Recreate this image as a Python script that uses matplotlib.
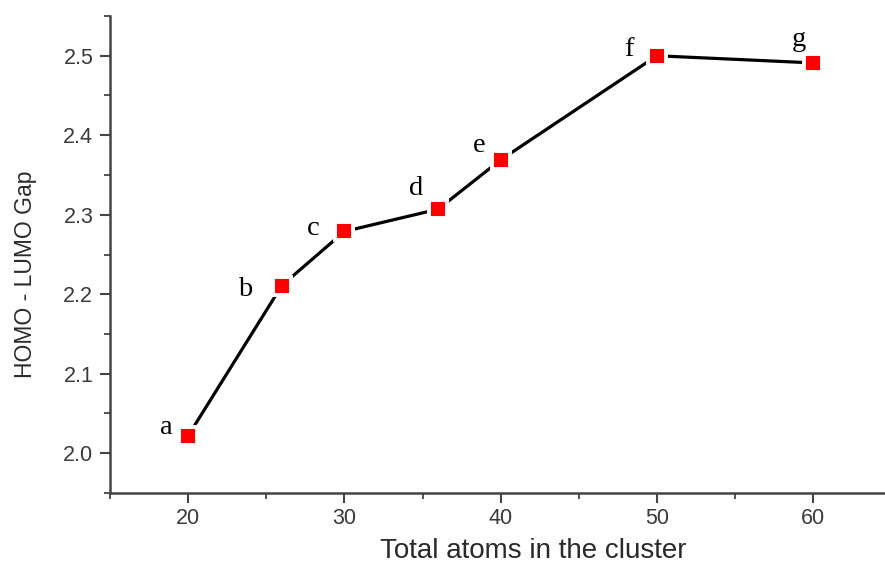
import matplotlib
matplotlib.use("Agg")
import matplotlib.pyplot as plt
from matplotlib.ticker import MultipleLocator

# cluster size vs. HOMO-LUMO gap
atoms = [20, 26, 30, 36, 40, 50, 60]
gap = [2.022, 2.211, 2.279, 2.307, 2.369, 2.500, 2.491]
point_labels = ["a", "b", "c", "d", "e", "f", "g"]

# label placement relative to each marker (points)
label_offsets = [(-16, 1), (-26.6, -7.2), (-22.7, -2.2), (-16.2, 10.4),
                 (-15.1, 5.8), (-20.2, 0), (-10, 11.9)]

plt.rcParams["font.family"] = ["Liberation Sans", "DejaVu Sans"]

fig = plt.figure(figsize=(8.85, 5.65), dpi=100)
ax = fig.add_axes([110 / 885, 72 / 565, 775 / 885, 477 / 565])

ax.plot(atoms, gap, color="black", lw=2.3, zorder=2)
ax.plot(atoms, gap, linestyle="none", marker="s", markersize=13.5,
        markerfacecolor="#ff0000", markeredgecolor="white",
        markeredgewidth=2.8, zorder=3)

for x, y, lab, (dx, dy) in zip(atoms, gap, point_labels, label_offsets):
    ax.annotate(lab, (x, y), xytext=(dx, dy), textcoords="offset points",
                ha="center", va="baseline", fontsize=20.5,
                family="Liberation Serif", color="black")

ax.set_xlim(15, 64.6)
ax.set_ylim(1.95, 2.55)
ax.xaxis.set_major_locator(MultipleLocator(10))
ax.xaxis.set_minor_locator(MultipleLocator(5))
ax.yaxis.set_major_locator(MultipleLocator(0.1))
ax.yaxis.set_minor_locator(MultipleLocator(0.05))
ax.yaxis.set_major_formatter(plt.FormatStrFormatter("%.1f"))

for side in ("top", "right"):
    ax.spines[side].set_visible(False)
for side in ("left", "bottom"):
    ax.spines[side].set_color("#444444")
    ax.spines[side].set_linewidth(1.8)

ax.tick_params(which="major", direction="out", length=7, width=1.5,
               color="#444444", labelsize=15.5, labelcolor="#3a3a3a")
ax.tick_params(which="minor", direction="out", length=4, width=1.3,
               color="#444444")
ax.tick_params(axis="y", which="major", pad=5)
ax.tick_params(axis="x", which="major", pad=4)

ax.set_xlabel("Total atoms in the cluster", fontsize=20, color="#2a2a2a")
ax.set_ylabel("HOMO - LUMO Gap", fontsize=16.5, color="#2a2a2a")
ax.xaxis.set_label_coords(0.546, -0.095)
ax.yaxis.set_label_coords(-0.094, 0.459)

fig.savefig("out.png", dpi=100)
